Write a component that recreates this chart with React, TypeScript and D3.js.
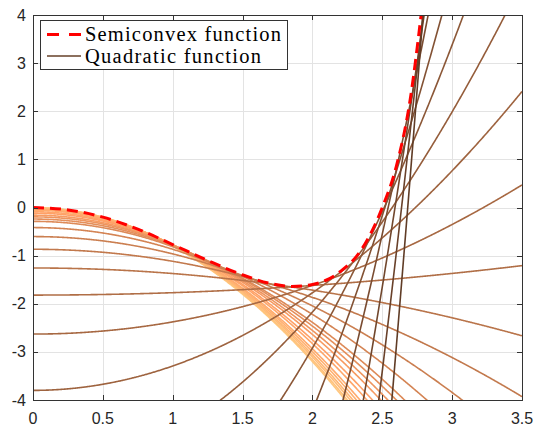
import React, { useEffect, useRef } from 'react';
import * as d3 from 'd3';

const xTicks = [0, 0.5, 1, 1.5, 2, 2.5, 3, 3.5];
const yTicks = [-4, -3, -2, -1, 0, 1, 2, 3, 4];

// semiconvex function, points
const funcX = [0, 0.25, 0.5, 0.75, 1.0, 1.25, 1.5, 1.7, 1.85, 2.0, 2.2, 2.35, 2.5, 2.6, 2.7, 2.78];
const funcY = [0, -0.05, -0.2, -0.45, -0.77, -1.1, -1.4, -1.58, -1.64, -1.6, -1.33, -0.88, 0.0, 0.85, 2.25, 4.05];

// quadratic functions q(x) = a + b * x^2 (a = value at x = 0)
const quadA = [-0.002, -0.007, -0.015, -0.026, -0.04, -0.056, -0.088, -0.117, -0.159, -0.195, -0.24, -0.288, -0.417,
  -0.604, -0.868, -1.257, -1.82, -2.63, -3.8, -5.5, -7.96, -11.42, -16.8, -23.9, -33.4, -48.2];
const quadB = [-0.8, -0.789, -0.773, -0.758, -0.739, -0.72, -0.685, -0.658, -0.62, -0.59, -0.556, -0.525, -0.451,
  -0.36, -0.25, -0.115, 0.05, 0.253, 0.507, 0.832, 1.26, 1.8, 2.6, 3.56, 4.8, 6.7];

const legendLabels = ['Semiconvex function', 'Quadratic function'];

const W = 538;
const H = 427;

// matlab copper colormap
const copper = (t: number) =>
  d3.rgb(Math.min(1, 1.25 * t) * 255, 0.7812 * t * 255, 0.4975 * t * 255).formatHex();

const App = () => {
  const ref = useRef<SVGSVGElement>(null);

  useEffect(() => {
    const svg = d3.select(ref.current);
    svg.selectAll('*').remove();

    const x = d3.scaleLinear().domain([0, 3.5]).range([33, 522]);
    const y = d3.scaleLinear().domain([-4, 4]).range([400, 15]);
    const [x0, x1] = x.range();
    const [y0, y1] = y.range();

    svg.append('rect').attr('width', W).attr('height', H).attr('fill', '#fff');

    svg.append('defs').append('clipPath').attr('id', 'plotclip')
      .append('rect').attr('x', x0).attr('y', y1).attr('width', x1 - x0).attr('height', y0 - y1);

    // grid
    const grid = svg.append('g').attr('stroke', '#e3e3e3').attr('stroke-width', 1);
    xTicks.forEach((t) => {
      grid.append('line').attr('x1', Math.round(x(t)) + 0.5).attr('x2', Math.round(x(t)) + 0.5)
        .attr('y1', y1).attr('y2', y0);
    });
    yTicks.forEach((t) => {
      grid.append('line').attr('y1', Math.round(y(t)) + 0.5).attr('y2', Math.round(y(t)) + 0.5)
        .attr('x1', x0).attr('x2', x1);
    });

    const plot = svg.append('g').attr('clip-path', 'url(#plotclip)');

    const xs = d3.range(0, 3.5001, 0.005);
    const n = quadA.length;
    quadA.forEach((a, i) => {
      const b = quadB[i];
      const pts = xs.filter((v) => a + b * v * v > -6 && a + b * v * v < 6);
      plot.append('path')
        .attr('d', d3.line<number>().x((d) => x(d)).y((d) => y(a + b * d * d))(pts))
        .attr('fill', 'none')
        .attr('stroke', copper(1 - (0.7 * i) / (n - 1)))
        .attr('stroke-width', 1.6);
    });

    const funcData = funcX.map((v, i) => [v, funcY[i]] as [number, number]);
    plot.append('path')
      .attr('d', d3.line().x((d) => x(d[0])).y((d) => y(d[1])).curve(d3.curveMonotoneX)(funcData))
      .attr('fill', 'none')
      .attr('stroke', '#ff0000')
      .attr('stroke-width', 3)
      .attr('stroke-dasharray', '11,6');

    // axes box + ticks
    const axis = svg.append('g').attr('stroke', '#333').attr('stroke-width', 1).attr('fill', 'none');
    axis.append('rect').attr('x', x0 + 0.5).attr('y', y1 + 0.5).attr('width', x1 - x0).attr('height', y0 - y1);
    const tl = 5;
    xTicks.forEach((t) => {
      const px = Math.round(x(t)) + 0.5;
      axis.append('line').attr('x1', px).attr('x2', px).attr('y1', y0).attr('y2', y0 - tl);
      axis.append('line').attr('x1', px).attr('x2', px).attr('y1', y1).attr('y2', y1 + tl);
    });
    yTicks.forEach((t) => {
      const py = Math.round(y(t)) + 0.5;
      axis.append('line').attr('y1', py).attr('y2', py).attr('x1', x0).attr('x2', x0 + tl);
      axis.append('line').attr('y1', py).attr('y2', py).attr('x1', x1).attr('x2', x1 - tl);
    });

    const labels = svg.append('g').attr('font-family', 'Liberation Sans, Arial, sans-serif')
      .attr('font-size', 16).attr('fill', '#262626');
    xTicks.forEach((t) => {
      labels.append('text').attr('x', x(t)).attr('y', y0 + 24).attr('text-anchor', 'middle').text(String(t));
    });
    yTicks.forEach((t) => {
      labels.append('text').attr('x', x0 - 7).attr('y', y(t)).attr('dy', '0.35em')
        .attr('text-anchor', 'end').text(String(t));
    });

    // legend
    const lg = svg.append('g');
    lg.append('rect').attr('x', 40.5).attr('y', 20.5).attr('width', 247).attr('height', 49)
      .attr('fill', '#fff').attr('stroke', '#333').attr('stroke-width', 1);
    lg.append('line').attr('x1', 47).attr('x2', 81).attr('y1', 34.5).attr('y2', 34.5)
      .attr('stroke', '#ff0000').attr('stroke-width', 3).attr('stroke-dasharray', '12,10');
    lg.append('line').attr('x1', 47).attr('x2', 81).attr('y1', 56).attr('y2', 56)
      .attr('stroke', copper(0.32)).attr('stroke-width', 1.6);
    const textLen = [196, 176];
    legendLabels.forEach((l, i) => {
      lg.append('text').attr('x', 85).attr('y', 41 + i * 21.5)
        .attr('font-family', 'Liberation Serif, Times New Roman, serif')
        .attr('font-size', 20.5).attr('fill', '#000')
        .attr('textLength', textLen[i]).attr('lengthAdjust', 'spacing')
        .text(l);
    });
  }, []);

  return (
    <div style={{ position: 'fixed', left: 0, top: 0 }}>
      <svg ref={ref} width={W} height={H} style={{ display: 'block' }} />
    </div>
  );
};

export default App;
